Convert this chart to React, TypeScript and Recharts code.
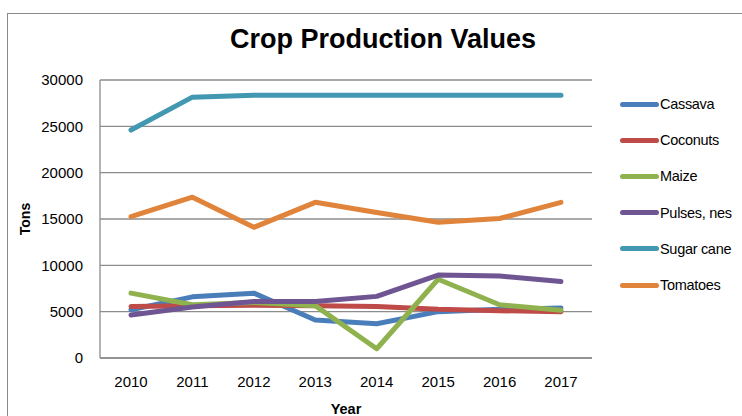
import React from 'react';
import { LineChart, Line, XAxis, YAxis, CartesianGrid, Label } from 'recharts';

const years = ['2010', '2011', '2012', '2013', '2014', '2015', '2016', '2017'];
const cassava = [5200, 6600, 7000, 4100, 3700, 5000, 5250, 5400];
const coconuts = [5550, 5650, 5700, 5650, 5550, 5250, 5100, 5000];
const maize = [7000, 5750, 6000, 5650, 1000, 8500, 5750, 5150];
const pulses = [4650, 5500, 6100, 6100, 6650, 8950, 8850, 8250];
const sugarCane = [24600, 28150, 28350, 28350, 28350, 28350, 28350, 28350];
const tomatoes = [15250, 17350, 14100, 16800, 15700, 14650, 15050, 16800];
const yTicks = [0, 5000, 10000, 15000, 20000, 25000, 30000];

const seriesNames = ['Cassava', 'Coconuts', 'Maize', 'Pulses, nes', 'Sugar cane', 'Tomatoes'];
const seriesValues = [cassava, coconuts, maize, pulses, sugarCane, tomatoes];
const seriesColors = ['#4a7ebb', '#be4b48', '#8fb24f', '#6f5592', '#4198b0', '#e0843b'];

const data = years.map((y, i) => {
  const row: Record<string, string | number> = { year: y };
  seriesNames.forEach((n, k) => {
    row[n] = seriesValues[k][i];
  });
  return row;
});

const FONT = '"Liberation Sans", Arial, sans-serif';

export default function App() {
  return (
    <div style={{ position: 'absolute', left: 0, top: 0, width: 742, height: 416, overflow: 'hidden', background: '#fff', fontFamily: FONT }}>
      <div style={{ position: 'absolute', left: 7, top: 13, width: 900, height: 600, border: '1px solid #8a8a8a', boxSizing: 'border-box' }} />
      <div style={{ position: 'absolute', left: 0, top: 24, width: 766, textAlign: 'center', fontSize: 27, fontWeight: 'bold', color: '#000' }}>
        Crop Production Values
      </div>
      <div style={{ position: 'absolute', left: 0, top: 0 }}>
        <LineChart width={742} height={416} data={data} margin={{ top: 80, right: 150, bottom: 28, left: 30 }}>
          <CartesianGrid vertical={false} stroke="#8c8c8c" strokeWidth={1.3} />
          <XAxis
            dataKey="year"
            padding={{ left: 31, right: 31 }}
            axisLine={{ stroke: '#8c8c8c', strokeWidth: 1.3 }}
            tickLine={false}
            tick={{ fill: '#000', fontSize: 15, fontFamily: FONT }}
            tickMargin={12}
            height={30}
          >
            <Label value="Year" position="insideBottom" offset={-26} style={{ fontWeight: 'bold', fontSize: 14.5, fill: '#000', fontFamily: FONT }} />
          </XAxis>
          <YAxis
            domain={[0, 30000]}
            ticks={yTicks}
            axisLine={{ stroke: '#8c8c8c', strokeWidth: 1.3 }}
            tickLine={false}
            tick={{ fill: '#000', fontSize: 15, fontFamily: FONT }}
            tickMargin={11}
            width={70}
          >
            <Label value="Tons" angle={-90} position="insideLeft" offset={-5} style={{ fontWeight: 'bold', fontSize: 14, fill: '#000', fontFamily: FONT, textAnchor: 'middle' }} />
          </YAxis>
          {seriesNames.map((n, k) => (
            <Line
              key={n}
              dataKey={n}
              stroke={seriesColors[k]}
              strokeWidth={5}
              strokeLinecap="round"
              strokeLinejoin="round"
              dot={false}
              activeDot={false}
              isAnimationActive={false}
            />
          ))}
        </LineChart>
      </div>
      {seriesNames.map((n, k) => (
        <div key={n} style={{ position: 'absolute', left: 620, top: 104 + k * 36.2 - 9, height: 18, display: 'flex', alignItems: 'center', fontSize: 14.5, letterSpacing: -0.3, color: '#000' }}>
          <div style={{ width: 39, height: 5, borderRadius: 3, background: seriesColors[k], marginRight: 1 }} />
          <span>{n}</span>
        </div>
      ))}
    </div>
  );
}
